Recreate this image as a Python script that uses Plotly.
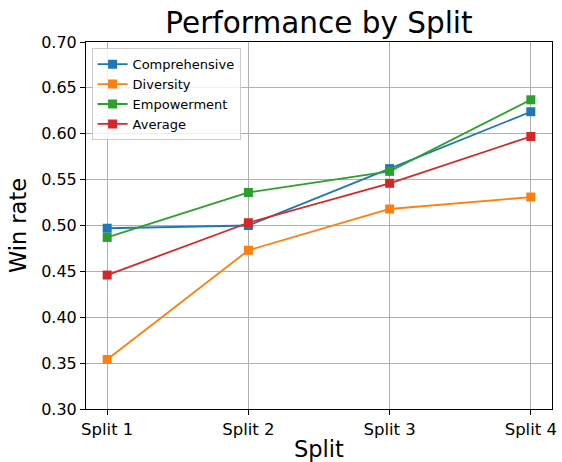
import plotly.graph_objects as go

splits = ["Split 1", "Split 2", "Split 3", "Split 4"]
comprehensive = [0.497, 0.500, 0.562, 0.624]
diversity = [0.354, 0.473, 0.518, 0.531]
empowerment = [0.487, 0.536, 0.559, 0.637]
average = [0.446, 0.503, 0.546, 0.597]
y_ticks = [0.30, 0.35, 0.40, 0.45, 0.50, 0.55, 0.60, 0.65, 0.70]

series = [
    ("Comprehensive", comprehensive, "#1f77b4"),
    ("Diversity", diversity, "#ff7f0e"),
    ("Empowerment", empowerment, "#2ca02c"),
    ("Average", average, "#d62728"),
]

fig = go.Figure()
for name, vals, color in series:
    fig.add_trace(go.Scatter(
        x=list(range(len(splits))), y=vals, name=name, mode="lines+markers",
        line=dict(color=color, width=1.8),
        marker=dict(symbol="square", size=9, color=color),
    ))

font = "DejaVu Sans, sans-serif"
fig.update_layout(
    width=562, height=462,
    margin=dict(l=86, r=10, t=42, b=53),
    plot_bgcolor="white", paper_bgcolor="white",
    font=dict(family=font, color="black"),
    title=dict(text="Performance by Split", x=0.5, xref="paper", xanchor="center",
               y=0.951, yref="container", yanchor="middle",
               font=dict(size=29.5, family=font, color="black")),
    showlegend=True,
    legend=dict(x=0.012, y=0.983, xanchor="left", yanchor="top",
                bgcolor="rgba(255,255,255,0.8)", bordercolor="#cccccc", borderwidth=1,
                font=dict(size=13, family=font), tracegroupgap=0, itemwidth=30),
)
fig.update_xaxes(
    range=[-0.15, 3.15], tickmode="array", tickvals=list(range(len(splits))), ticktext=splits,
    showgrid=True, gridcolor="#b0b0b0", gridwidth=1,
    showline=True, linecolor="black", linewidth=1, mirror=True,
    ticks="outside", ticklen=5, tickcolor="black",
    tickfont=dict(size=16.5, family=font),
    title=dict(text="Split", font=dict(size=22.5, family=font), standoff=4),
    zeroline=False, automargin=False,
)
fig.update_yaxes(
    range=[0.30, 0.70], tickmode="array",
    tickvals=y_ticks,
    ticktext=["%.2f" % v for v in y_ticks],
    showgrid=True, gridcolor="#b0b0b0", gridwidth=1,
    showline=True, linecolor="black", linewidth=1, mirror=True,
    ticks="outside", ticklen=5, tickcolor="black",
    tickfont=dict(size=16, family=font),
    title=dict(text="Win rate", font=dict(size=22.5, family=font), standoff=8),
    zeroline=False, automargin=False,
)
fig.write_html(
    "out.html",
    config={"displayModeBar": False},
    post_script="document.body.style.margin='0';document.body.style.padding='0';",
)
